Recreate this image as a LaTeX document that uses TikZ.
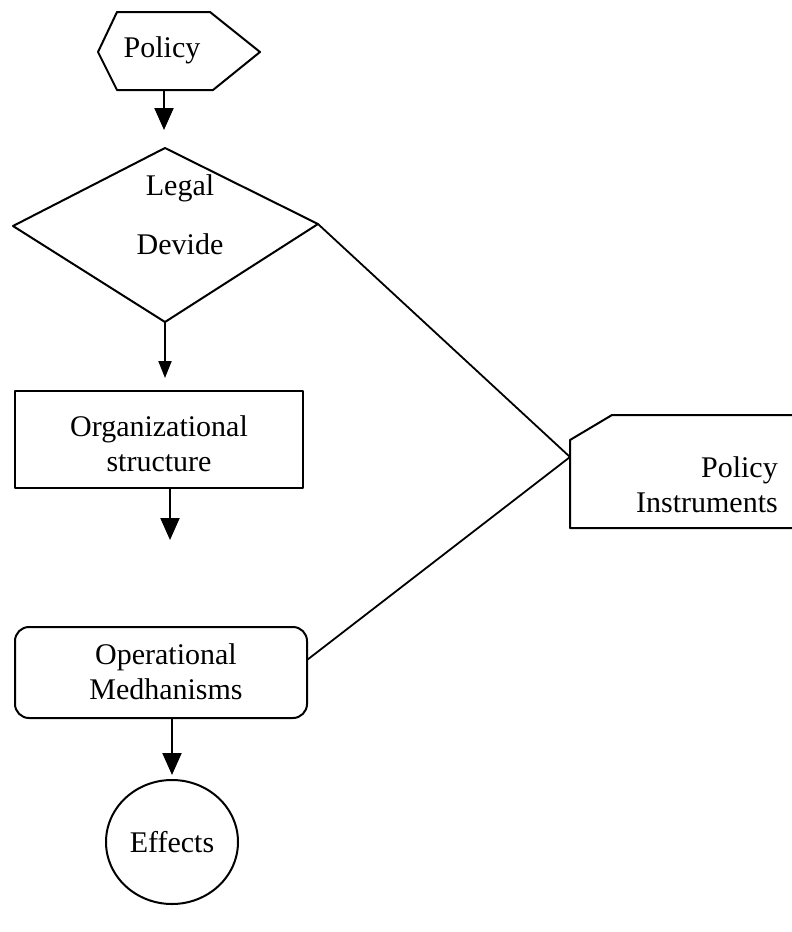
\documentclass[tikz,border=0pt]{standalone}
\usepackage{fontspec}
\setmainfont{Liberation Serif}
\usetikzlibrary{arrows.meta}
\begin{document}
\begin{tikzpicture}[x=1pt,y=-1pt,
  shapeline/.style={line width=2pt, line join=round},
  lbl/.style={font=\fontsize{30}{35}\selectfont, align=center, inner sep=0pt},
  bigarr/.style={line width=2.2pt, -{Triangle[length=22pt,width=19pt]}},
  smallarr/.style={line width=1.9pt, -{Triangle[length=17pt,width=13pt]}},
  link/.style={line width=1.8pt}]
\useasboundingbox (0,0) rectangle (792,932);

% Policy hexagon
\draw[shapeline] (98,52) -- (117,12) -- (210,12) -- (260,52) -- (213,90) -- (117,90) -- cycle;
\node[lbl] (policy) at (162,50) {Policy};
\coordinate (policyS) at (164,90);
\coordinate (policyArr) at (164,130);

% Legal Devide diamond
\draw[shapeline] (165,148) -- (318,224) -- (165,322) -- (13,226) -- cycle;
\node[lbl] (legal) at (180,215) {Legal\\[24pt]Devide};
\coordinate (legalE) at (318,224);
\coordinate (legalS) at (165,322);
\coordinate (legalArr) at (165,378);

% Organizational structure
\draw[shapeline] (15,391) rectangle (303,488);
\node[lbl] (org) at (159,444) {Organizational\\structure};
\coordinate (orgS) at (170,488);
\coordinate (orgArr) at (170,540);

% Operational Mechanisms
\draw[shapeline, rounded corners=14pt] (15,627) rectangle (307,718);
\node[lbl] (oper) at (166,672) {Operational\\Medhanisms};
\coordinate (operE) at (307,660);
\coordinate (operS) at (172,718);
\coordinate (operArr) at (172,775);

% Effects ellipse
\draw[shapeline] (172,842) ellipse [x radius=66, y radius=62];
\node[lbl] (effects) at (172,842) {Effects};

% Policy Instruments
\draw[shapeline] (792,415) -- (612,415) -- (570,440) -- (570,528) -- (792,528);
\node[lbl, align=right, anchor=east] (instr) at (778,485) {Policy\\Instruments};
\coordinate (instrW) at (570,457);

% connectors
\draw[bigarr] (policyS) -- (policyArr);
\draw[smallarr] (legalS) -- (legalArr);
\draw[bigarr] (orgS) -- (orgArr);
\draw[bigarr] (operS) -- (operArr);
\draw[link] (legalE) -- (instrW);
\draw[link] (operE) -- (instrW);
\end{tikzpicture}
\end{document}
